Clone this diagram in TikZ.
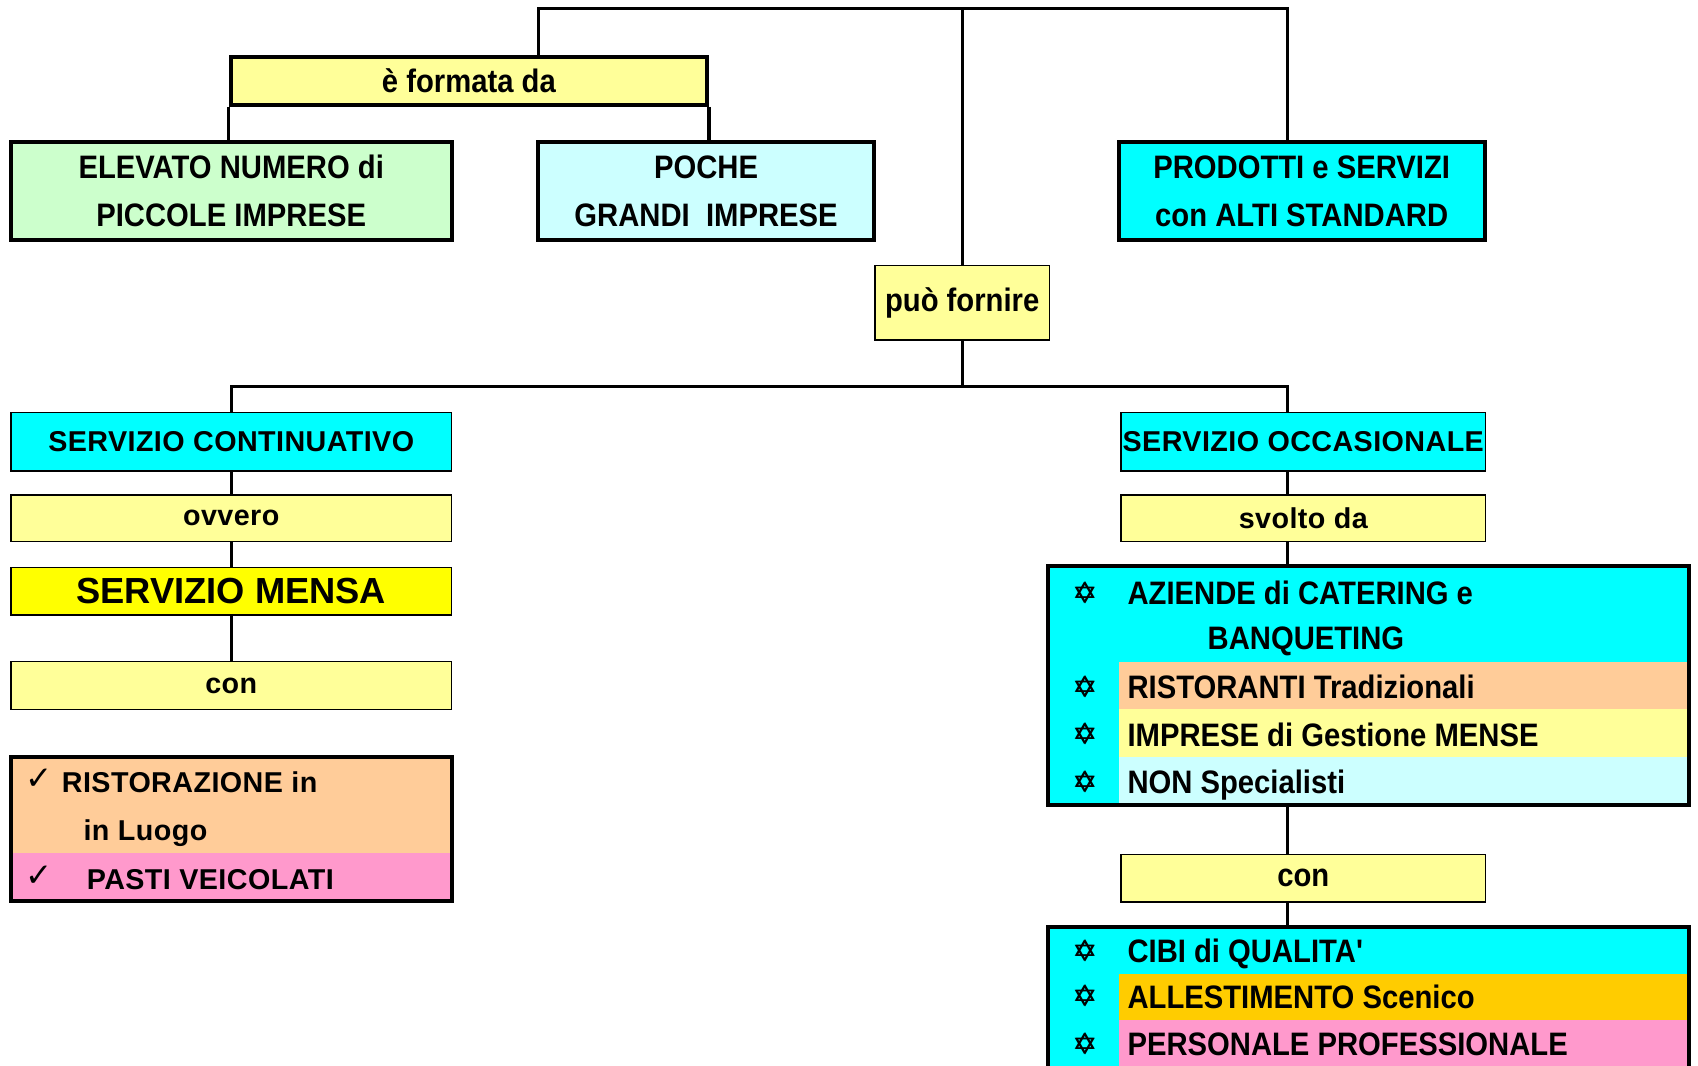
\documentclass[tikz,border=0pt]{standalone}
\usepackage{fontspec}
\setmainfont{Liberation Sans}
\newfontfamily\fontWide[LetterSpace=1.5]{Liberation Sans}
\newfontfamily\fontNarrow[FakeStretch=0.9]{Liberation Sans}
\newfontfamily\fontSym{DejaVu Sans}

\definecolor{paleyellow}{HTML}{FFFF99}
\definecolor{palegreen}{HTML}{CCFFCC}
\definecolor{palecyan}{HTML}{CCFFFF}
\definecolor{brightcyan}{HTML}{00FFFF}
\definecolor{brightyellow}{HTML}{FFFF00}
\definecolor{peach}{HTML}{FFCC99}
\definecolor{rosepink}{HTML}{FF99CC}
\definecolor{goldorange}{HTML}{FFCC00}

\tikzset{
  conn/.style={line width=3pt},
  heavybox/.style={draw, line width=3.6pt, inner sep=0pt},
  lightbox/.style={draw, line width=1.3pt, inner sep=0pt},
  narrowtxt/.style={font=\fontNarrow\bfseries\fontsize{30}{44}\selectfont, align=center},
  widetxt/.style={font=\fontWide\bfseries\fontsize{26.5}{31}\selectfont},
  mensatxt/.style={font=\bfseries\fontsize{33.5}{40}\selectfont},
  itemtxt/.style={inner sep=0pt, anchor=base west},
  bullet/.style={inner sep=0pt, font=\fontSym\fontsize{27}{27}\selectfont},
  tick/.style={inner sep=0pt, font=\fontSym\fontsize{30}{30}\selectfont},
}

\begin{document}
\begin{tikzpicture}[x=1pt,y=-1pt]
\useasboundingbox[fill=white] (0,0) rectangle (1568,984);

% ---- upper level ----
\node[heavybox, fill=paleyellow, minimum width=440pt, minimum height=44pt, narrowtxt]
  (formata) at (433,75) {è formata da};
\node[heavybox, fill=palegreen, minimum width=407pt, minimum height=91pt, narrowtxt]
  (elev) at (213.5,176.5) {ELEVATO NUMERO di\\PICCOLE IMPRESE};
\node[heavybox, fill=palecyan, minimum width=310pt, minimum height=91pt, narrowtxt]
  (poche) at (652,176.5) {POCHE\\GRANDI\ \ IMPRESE};
\node[heavybox, fill=brightcyan, minimum width=338pt, minimum height=91pt, narrowtxt]
  (prod) at (1202,176.5) {PRODOTTI e SERVIZI\\con ALTI STANDARD};
\node[lightbox, fill=paleyellow, minimum width=161pt, minimum height=69pt, narrowtxt]
  (puo) at (888.5,279.5) {può fornire};

% ---- left column ----
\node[lightbox, fill=brightcyan, minimum width=407pt, minimum height=54pt, widetxt]
  (cont) at (213.5,408) {SERVIZIO CONTINUATIVO};
\node[lightbox, fill=paleyellow, minimum width=407pt, minimum height=43pt, widetxt]
  (ovvero) at (213.5,478.5) {ovvero};
\node[lightbox, fill=brightyellow, minimum width=407pt, minimum height=44pt, mensatxt]
  (mensa) at (213.5,546) {SERVIZIO MENSA};
\node[lightbox, fill=paleyellow, minimum width=407pt, minimum height=44pt, widetxt]
  (conL) at (213.5,633) {con};

% restaurant types, two bands
\fill[peach] (10,699) rectangle (417,788);
\fill[rosepink] (10,788) rectangle (417,832);
\node[heavybox, minimum width=407pt, minimum height=133pt] (rist) at (213.5,765.5) {};
\node[tick] (tk1) at (36,720) {✓};
\node[tick] (tk2) at (36,809) {✓};
\node[itemtxt, widetxt] (rs1) at (57,732) {RISTORAZIONE in};
\node[itemtxt, widetxt] (rs2) at (77,776) {in Luogo};
\node[itemtxt, widetxt] (rs3) at (80,821) {PASTI VEICOLATI};

% ---- right column ----
\node[lightbox, fill=brightcyan, minimum width=337pt, minimum height=54pt, widetxt]
  (occ) at (1203.5,408) {SERVIZIO OCCASIONALE};
\node[lightbox, fill=paleyellow, minimum width=337pt, minimum height=43pt, widetxt]
  (svolto) at (1203.5,478.5) {svolto da};

% providers list
\fill[brightcyan] (968,523) rectangle (1560,743);
\fill[peach] (1033,611) rectangle (1560,655);
\fill[paleyellow] (1033,655) rectangle (1560,699);
\fill[palecyan] (1033,699) rectangle (1560,743);
\node[heavybox, minimum width=592pt, minimum height=220pt] (azi) at (1264,633) {};
\foreach \yy/\nm in {547/a, 634/b, 678/c, 722/d}{
  \node[bullet] (st\nm) at (1002,\yy) {✡};
  \node[bullet] at (1002.6,\yy) {✡};
}
\node[itemtxt, narrowtxt] (az1) at (1041,558) {AZIENDE di CATERING e};
\node[itemtxt, narrowtxt] (az2) at (1115,600) {BANQUETING};
\node[itemtxt, narrowtxt] (az3) at (1041,645) {RISTORANTI Tradizionali};
\node[itemtxt, narrowtxt] (az4) at (1041,689) {IMPRESE di Gestione MENSE};
\node[itemtxt, narrowtxt] (az5) at (1041,733) {NON Specialisti};

\node[lightbox, fill=paleyellow, minimum width=337pt, minimum height=44pt, narrowtxt]
  (conR) at (1203.5,811) {con};

% qualities list
\fill[brightcyan] (968,856) rectangle (1560,995);
\fill[goldorange] (1033,899) rectangle (1560,942);
\fill[rosepink] (1033,942) rectangle (1560,995);
\node[heavybox, minimum width=592pt, minimum height=139pt] (cibi) at (1264,925.5) {};
\foreach \yy/\nm in {878/e, 920/f, 964/g}{
  \node[bullet] (st\nm) at (1002,\yy) {✡};
  \node[bullet] at (1002.6,\yy) {✡};
}
\node[itemtxt, narrowtxt] (cb1) at (1041,889) {CIBI di QUALITA'};
\node[itemtxt, narrowtxt] (cb2) at (1041,931) {ALLESTIMENTO Scenico};
\node[itemtxt, narrowtxt] (cb3) at (1041,975) {PERSONALE PROFESSIONALE};

% ---- connectors ----
\coordinate (tl) at (497,8);
\coordinate (tr) at (1189,8);
\coordinate (lx) at (213,357);
\coordinate (rx) at (1189,357);

\draw[conn] (tl |- formata.north) -- (tl) -- (tr) -- (tr |- prod.north);
\draw[conn] (puo.north) -- (puo.north |- tl);
\draw[conn] (formata.south west) -- (formata.south west |- elev.north);
\draw[conn] (formata.south east) -- (formata.south east |- poche.north);

\draw[conn] (puo.south) -- (puo.south |- rx);
\draw[conn] (cont.north) -- (cont.north |- lx) -- (rx) -- (rx |- occ.north);

\draw[conn] (cont.south) -- (ovvero.north);
\draw[conn] (ovvero.south) -- (mensa.north);
\draw[conn] (mensa.south) -- (conL.north);

\draw[conn] (rx |- occ.south) -- (rx |- svolto.north);
\draw[conn] (rx |- svolto.south) -- (rx |- azi.north);
\draw[conn] (rx |- azi.south) -- (rx |- conR.north);
\draw[conn] (rx |- conR.south) -- (rx |- cibi.north);
\end{tikzpicture}
\end{document}
